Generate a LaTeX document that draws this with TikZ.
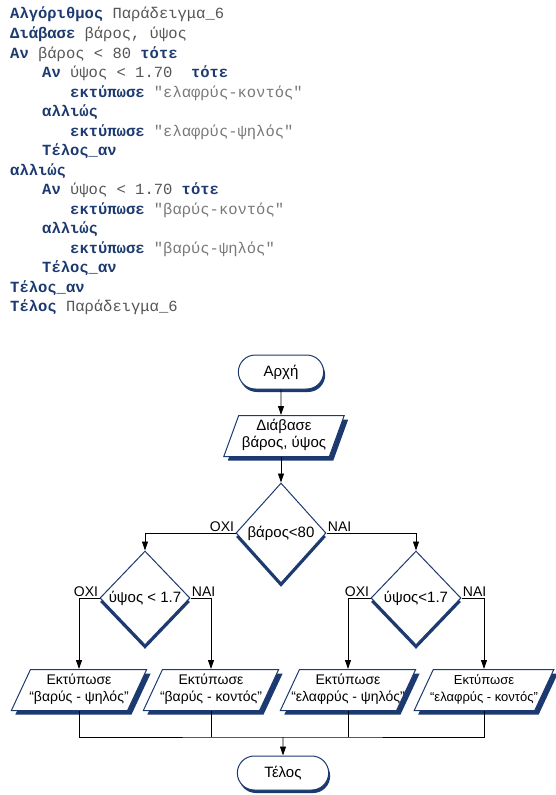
\documentclass[tikz,border=0pt]{standalone}
\usepackage{fontspec}
\setmainfont{Liberation Sans}
\setmonofont{Liberation Mono}
\usetikzlibrary{shapes.geometric,shapes.misc,shadows,arrows.meta}
\definecolor{navy}{RGB}{28,58,112}
\definecolor{codegray}{RGB}{85,85,85}
\definecolor{strgray}{RGB}{120,120,120}
\newcommand\kwd[1]{\textbf{\color{navy}#1}}
\newcommand\strg[1]{{\color{strgray}#1}}
% two centred lines of zero width, so the box size comes from the style only
\newcommand\iotext[2]{\makebox[0pt]{\begin{tabular}{@{}c@{}}#1\\#2\end{tabular}}}

\begin{document}
\begin{tikzpicture}[x=1pt, y=-1pt,
  code/.style={anchor=base west, inner sep=0pt, font=\ttfamily\fontsize{15.5}{18}\selectfont, text=codegray},
  term/.style={rounded rectangle, draw=navy, line width=1pt, fill=white, minimum height=34pt, font=\fontsize{15}{18}\selectfont, drop shadow={shadow xshift=1.5pt, shadow yshift=-3pt, fill=navy, opacity=1}},
  io/.style={trapezium, trapezium left angle=65, trapezium right angle=115, draw=navy, line width=1pt, fill=white, minimum height=41pt, inner xsep=45pt, inner ysep=2pt, font=\fontsize{14}{17}\selectfont, drop shadow={shadow xshift=4pt, shadow yshift=-4pt, fill=navy, opacity=1}},
  dec/.style={diamond, draw=navy, line width=1pt, fill=white, minimum width=90pt, minimum height=94pt, inner sep=0pt, font=\fontsize{15}{18}\selectfont, drop shadow={shadow xshift=0pt, shadow yshift=-4pt, fill=navy, opacity=1}},
  lab/.style={font=\fontsize{14}{16}\selectfont, inner sep=1pt},
  arr/.style={-{Triangle[length=9pt,width=6pt]}, line width=0.9pt},
  ln/.style={line width=0.9pt}]
\useasboundingbox (0,0) rectangle (555,795);
% pseudocode
\node[code] (c1) at (10,19) {\kwd{Αλγόριθμος} Παράδειγμα\_6};
\node[code] (c2) at (10,38.5) {\kwd{Διάβασε} βάρος, ύψος};
\node[code] (c3) at (10,58) {\kwd{Αν} βάρος < 80 \kwd{τότε}};
\node[code] (c4) at (42,77.5) {\kwd{Αν} ύψος < 1.70\ \ \kwd{τότε}};
\node[code] (c5) at (70,97) {\kwd{εκτύπωσε} \strg{"ελαφρύς-κοντός"}};
\node[code] (c6) at (42,116.5) {\kwd{αλλιώς}};
\node[code] (c7) at (70,136) {\kwd{εκτύπωσε} \strg{"ελαφρύς-ψηλός"}};
\node[code] (c8) at (42,155.5) {\kwd{Τέλος\_αν}};
\node[code] (c9) at (10,175) {\kwd{αλλιώς}};
\node[code] (c10) at (42,194.5) {\kwd{Αν} ύψος < 1.70 \kwd{τότε}};
\node[code] (c11) at (70,214) {\kwd{εκτύπωσε} \strg{"βαρύς-κοντός"}};
\node[code] (c12) at (42,233.5) {\kwd{αλλιώς}};
\node[code] (c13) at (70,253) {\kwd{εκτύπωσε} \strg{"βαρύς-ψηλός"}};
\node[code] (c14) at (42,272.5) {\kwd{Τέλος\_αν}};
\node[code] (c15) at (10,292) {\kwd{Τέλος\_αν}};
\node[code] (c16) at (10,311.5) {\kwd{Τέλος} Παράδειγμα\_6};
% flowchart
\node[term, minimum width=92pt] (start) at (281,372) {Αρχή};
\node[io, trapezium left angle=70, trapezium right angle=110, inner xsep=42pt, font=\fontsize{15}{17}\selectfont] (read) at (284,436) {\iotext{Διάβασε}{βάρος, ύψος}};
\node[dec, minimum height=100pt] (d0) at (281,533) {\makebox[0pt]{βάρος<80}};
\node[dec] (d1) at (145,598) {\makebox[0pt]{ύψος < 1.7}};
\node[dec] (d2) at (416,598) {\makebox[0pt]{ύψος<1.7}};
\node[io] (p1) at (79,690) {\iotext{Εκτύπωσε}{“βαρύς - ψηλός”}};
\node[io] (p2) at (211,690) {\iotext{Εκτύπωσε}{“βαρύς - κοντός”}};
\node[io] (p3) at (348,690) {\iotext{Εκτύπωσε}{“ελαφρύς - ψηλός”}};
\node[io, inner xsep=47pt, font=\fontsize{13}{17}\selectfont] (p4) at (484,690) {\iotext{Εκτύπωσε}{“ελαφρύς - κοντός”}};
\node[term, minimum width=98pt] (end) at (283,773) {Τέλος};
\coordinate (j) at (283,737);
\draw[arr] (start) -- (start |- read.north);
\draw[arr] (read.south -| d0) -- (d0);
\draw[arr] (d0.west) node[lab, above left] {ΟΧΙ} -| (d1.north);
\draw[arr] (d0.east) node[lab, above right] {ΝΑΙ} -| (d2.north);
\draw[arr] (d1.west) node[lab, above left] {ΟΧΙ} -| (p1.north);
\draw[arr] (d1.east) node[lab, above right] {ΝΑΙ} -| (p2.north);
\draw[arr] (d2.west) node[lab, above left] {ΟΧΙ} -| (p3.north);
\draw[arr] (d2.east) node[lab, above right] {ΝΑΙ} -| (p4.north);
\draw[ln] (p1.south) |- (j) -| (p4.south);
\draw[ln] (p2.south) -- (p2.south |- j);
\draw[ln] (p3.south) -- (p3.south |- j);
\draw[arr] (j) -- (end);
\end{tikzpicture}
\end{document}
